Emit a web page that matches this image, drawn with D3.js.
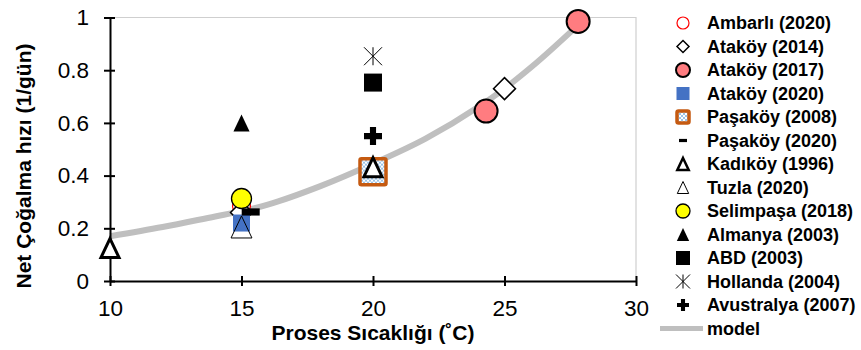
<!DOCTYPE html>
<html>
<head>
<meta charset="utf-8">
<script src="https://cdn.jsdelivr.net/npm/d3@7"></script>
<style>
    body { margin: 0; background: #fff; }
    text { font-family: "Liberation Sans", Arial, sans-serif; }
</style>
</head>
<body>
<div class="chart"></div>
<script>
// values
let seriesNames = ["Ambarlı (2020)", "Ataköy (2014)", "Ataköy (2017)", "Ataköy (2020)",
    "Paşaköy (2008)", "Paşaköy (2020)", "Kadıköy (1996)", "Tuzla (2020)",
    "Selimpaşa (2018)", "Almanya (2003)", "ABD (2003)", "Hollanda (2004)", "Avustralya (2007)"];

let ambarli2020 = [[15, 0.285]];
let atakoy2014 = [[15, 0.26], [25, 0.73]];
let atakoy2017 = [[24.3, 0.645], [27.8, 0.985]];
let atakoy2020 = [[15, 0.22]];
let pasakoy2008 = [[20, 0.415]];
let pasakoy2020 = [[15.35, 0.262]];
let kadikoy1996 = [[10, 0.125], [20, 0.432]];
let tuzla2020 = [[15, 0.205]];
let selimpasa2018 = [[15, 0.313]];
let almanya2003 = [[15, 0.6]];
let abd2003 = [[20, 0.753]];
let hollanda2004 = [[20, 0.853]];
let avustralya2007 = [[20, 0.55]];

let modelT = [10, 12, 14, 15, 16, 18, 20, 22, 24, 25, 26, 28];
let modelRate = [0.17, 0.205, 0.245, 0.265, 0.29, 0.36, 0.445, 0.54, 0.66, 0.73, 0.81, 0.99];

let xTicks = [10, 15, 20, 25, 30];
let yTicks = [0, 0.2, 0.4, 0.6, 0.8, 1];
let yTickLabels = ["0", "0.2", "0.4", "0.6", "0.8", "1"];

let seriesData = [ambarli2020, atakoy2014, atakoy2017, atakoy2020, pasakoy2008, pasakoy2020,
    kadikoy1996, tuzla2020, selimpasa2018, almanya2003, abd2003, hollanda2004, avustralya2007];

// marker look for each series (plot size r, legend size lr)
let markerStyles = [
    { shape: "circle", r: 9, lr: 6, fill: "none", stroke: "#ff0000", sw: 1.2 },
    { shape: "diamond", r: 11, lr: 6, fill: "#fff", stroke: "#000", sw: 1.5 },
    { shape: "circle", r: 11.5, lr: 7, fill: "#ff7c80", stroke: "#000", sw: 2 },
    { shape: "square", r: 8.5, lr: 6.5, fill: "#4472c4", stroke: "none", sw: 0 },
    { shape: "square", r: 13, lr: 6, fill: "url(#hatch)", stroke: "#c55a11", sw: 3.5 },
    { shape: "dash", r: 9, lr: 4, fill: "#000", stroke: "none", sw: 0 },
    { shape: "triangle", r: 9.5, lr: 6, fill: "#fff", stroke: "#000", sw: 3 },
    { shape: "triangle", r: 11, lr: 6, fill: "none", stroke: "#000", sw: 1 },
    { shape: "circle", r: 10, lr: 7, fill: "#ffff00", stroke: "#000", sw: 1.3 },
    { shape: "triangle", r: 8.5, lr: 6.5, fill: "#000", stroke: "none", sw: 0 },
    { shape: "square", r: 9, lr: 7, fill: "#000", stroke: "none", sw: 0 },
    { shape: "star", r: 9, lr: 7, fill: "none", stroke: "#000", sw: 1 },
    { shape: "plus", r: 9, lr: 6, fill: "#000", stroke: "none", sw: 0 }
];

let svg = d3.select(".chart")
    .append("svg")
    .attr("width", 861)
    .attr("height", 350);

// hatch fill for Paşaköy (2008)
let pat = svg.append("defs").append("pattern")
    .attr("id", "hatch")
    .attr("patternUnits", "userSpaceOnUse")
    .attr("width", 4)
    .attr("height", 4);
pat.append("rect").attr("width", 4).attr("height", 4).attr("fill", "#fff");
pat.append("rect").attr("width", 2).attr("height", 2).attr("fill", "#9dc3e6");
pat.append("rect").attr("x", 2).attr("y", 2).attr("width", 2).attr("height", 2).attr("fill", "#9dc3e6");

let x = d3.scaleLinear().domain([10, 30]).range([110, 636]);
let y = d3.scaleLinear().domain([0, 1]).range([281, 17.5]);

// light plot border (top + right)
svg.append("path")
    .attr("d", `M${x(10)},${y(1)}H${x(30)}V${y(0)}`)
    .attr("fill", "none")
    .attr("stroke", "#cfcfcf")
    .attr("stroke-width", 1.2);

// model curve
let line = d3.line()
    .x((d, i) => x(modelT[i]))
    .y(d => y(d))
    .curve(d3.curveMonotoneX);

svg.append("path")
    .datum(modelRate)
    .attr("d", line)
    .attr("fill", "none")
    .attr("stroke", "#bfbfbf")
    .attr("stroke-width", 6);

// axes
let xAxis = svg.append("g")
    .attr("transform", `translate(0, ${y(0)})`)
    .call(d3.axisBottom(x).tickValues(xTicks).tickSize(5).tickSizeOuter(0).tickPadding(14));

let yAxis = svg.append("g")
    .attr("transform", `translate(${x(10)}, 0)`)
    .call(d3.axisLeft(y).tickValues(yTicks).tickFormat((d, i) => yTickLabels[i])
        .tickSize(5).tickSizeOuter(0).tickPadding(16));

xAxis.selectAll(".tick line").attr("y1", -5).attr("y2", 5);
yAxis.selectAll(".tick line").attr("x1", -6).attr("x2", 5);

[xAxis, yAxis].forEach(function (ax) {
    ax.select(".domain").attr("stroke", "#000").attr("stroke-width", 2);
    ax.selectAll(".tick line").attr("stroke", "#000").attr("stroke-width", 2);
    ax.selectAll("text")
        .attr("fill", "#000")
        .style("font-family", "'Liberation Sans', Arial, sans-serif")
        .style("font-size", "22.5px");
});

// axis titles
svg.append("text")
    .attr("x", 373)
    .attr("y", 340)
    .attr("text-anchor", "middle")
    .style("font-weight", "bold")
    .style("font-size", "21px")
    .text("Proses Sıcaklığı (˚C)");

svg.append("text")
    .attr("transform", "translate(31, 166) rotate(-90)")
    .attr("text-anchor", "middle")
    .style("font-weight", "bold")
    .style("font-size", "21px")
    .text("Net Çoğalma hızı (1/gün)");

function drawMarker(g, st, r) {
    let el;
    if (st.shape === "circle") {
        el = g.append("circle").attr("r", r);
    } else if (st.shape === "diamond") {
        el = g.append("path").attr("d", `M0,${-r}L${r},0L0,${r}L${-r},0Z`);
    } else if (st.shape === "square") {
        el = g.append("rect").attr("x", -r).attr("y", -r).attr("width", 2 * r).attr("height", 2 * r)
            .attr("rx", st.sw > 2 ? 1.5 : 0);
    } else if (st.shape === "dash") {
        el = g.append("rect").attr("x", -r).attr("y", -r * 0.4).attr("width", 2 * r).attr("height", r * 0.8);
    } else if (st.shape === "triangle") {
        el = g.append("path").attr("d", `M0,${-r}L${r * 0.95},${r}L${-r * 0.95},${r}Z`)
            .attr("stroke-linejoin", "miter");
    } else if (st.shape === "star") {
        el = g.append("path").attr("d", `M${-r},${-r}L${r},${r}M${-r},${r}L${r},${-r}M0,${-r}V${r}`);
    } else if (st.shape === "plus") {
        let t = r * 0.34;
        el = g.append("path").attr("d",
            `M${-t},${-r}H${t}V${-t}H${r}V${t}H${t}V${r}H${-t}V${t}H${-r}V${-t}H${-t}Z`);
    }
    el.attr("fill", st.fill)
        .attr("stroke", st.stroke)
        .attr("stroke-width", st.sw);
}

// points, in series order (later on top)
seriesData.forEach(function (pts, i) {
    pts.forEach(function (p) {
        let g = svg.append("g").attr("transform", `translate(${x(p[0])}, ${y(p[1])})`);
        drawMarker(g, markerStyles[i], markerStyles[i].r);
    });
});

// legend
let legend = svg.append("g").attr("transform", "translate(683, 23)");
let rowStep = 23.5;

seriesNames.forEach(function (name, i) {
    let row = legend.append("g").attr("transform", `translate(0, ${i * rowStep})`);
    let st = markerStyles[i];
    let lst = Object.assign({}, st, { sw: Math.min(st.sw, 2.5) });
    if (st.shape === "square" && st.sw > 2) lst.sw = 3.5;
    drawMarker(row, lst, st.lr);
    row.append("text")
        .attr("x", 24)
        .attr("dy", "0.36em")
        .style("font-weight", "bold")
        .style("font-size", "18px")
        .text(name);
});

let modelRow = legend.append("g").attr("transform", `translate(0, ${seriesNames.length * rowStep})`);
modelRow.append("line")
    .attr("x1", -23).attr("x2", 20)
    .attr("stroke", "#bfbfbf")
    .attr("stroke-width", 5);
modelRow.append("text")
    .attr("x", 24)
    .attr("dy", "0.36em")
    .style("font-weight", "bold")
    .style("font-size", "18px")
    .text("model");
</script>
</body>
</html>
